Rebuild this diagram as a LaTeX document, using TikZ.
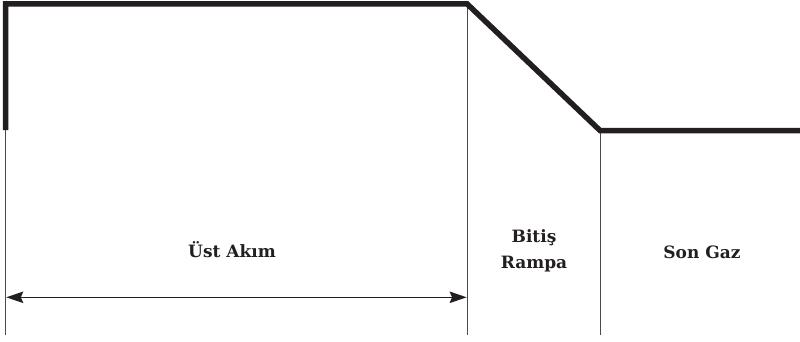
\documentclass[tikz,border=0pt]{standalone}
\usepackage{fontspec}
\setmainfont{DejaVu Serif}
\usetikzlibrary{arrows.meta}
\definecolor{ink}{HTML}{231F20}
\definecolor{thin}{HTML}{4A4A4A}
\tikzset{
  profile/.style={draw=ink, line width=5.5pt, miter limit=10, line join=miter},
  divider/.style={draw=thin, line width=0.9pt},
  span/.style={draw=ink, line width=1.1pt, {Stealth[length=17pt,width=11.5pt,inset=2.5pt]}-{Stealth[length=17pt,width=11.5pt,inset=2.5pt]}},
  lbl/.style={text=ink, font=\fontsize{17}{26}\selectfont\bfseries, align=center, inner sep=0pt}
}
\begin{document}
\begin{tikzpicture}[x=1pt,y=-1pt]
\useasboundingbox (0,0) rectangle (800,341);
% profile points
\coordinate (p0) at (5.5,130);
\coordinate (p1) at (5.5,3.8);
\coordinate (p2) at (467,3.8);
\coordinate (p3) at (600,130.5);
\coordinate (p4) at (802,130.5);
% divider ends
\coordinate (d0b) at (5.5,335);
\coordinate (d1t) at (467.3,3.8);
\coordinate (d1b) at (467.3,335);
\coordinate (d2t) at (600,130.5);
\coordinate (d2b) at (600,335);
% arrow ends
\coordinate (aL) at (6.3,297.3);
\coordinate (aR) at (466.6,297.3);

\draw[divider] (p0) -- (d0b);
\draw[divider] (d1t) -- (d1b);
\draw[divider] (d2t) -- (d2b);
\draw[profile] (p0) -- (p1) -- (p2) -- (p3) -- (p4);
\draw[span] (aL) -- (aR);

\node[lbl] (ust) at (232,250) {Üst Akım};
\node[lbl] (bitis) at (534,251) {Bitiş\\Rampa};
\node[lbl] (son) at (702,252) {Son Gaz};
\end{tikzpicture}
\end{document}
